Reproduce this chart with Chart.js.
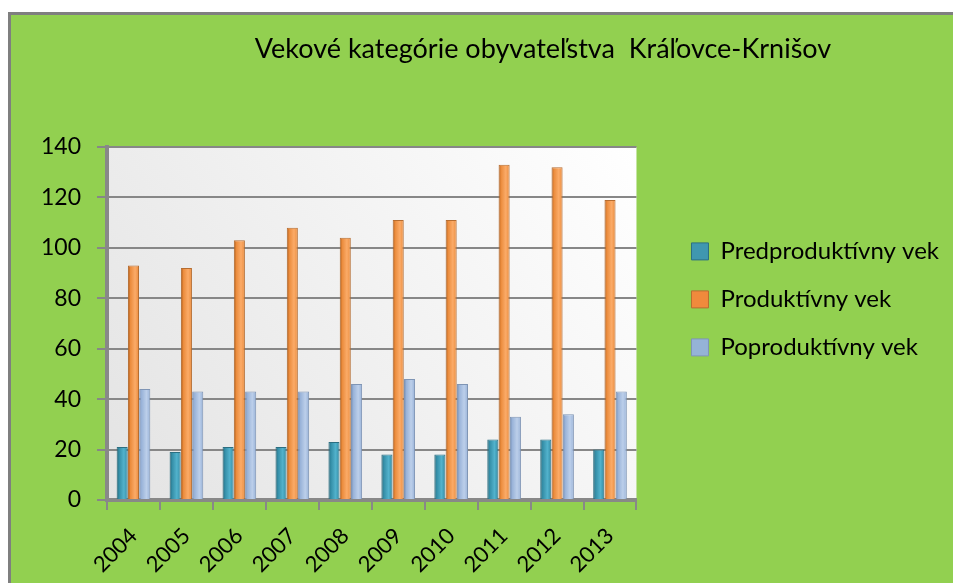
<!DOCTYPE html>
<html>
<head>
<meta charset="utf-8">
<script src="https://cdn.jsdelivr.net/npm/chart.js@4/dist/chart.umd.min.js"></script>
<style>
  body { margin: 0; background: #fff; }
  #frame {
    position: absolute; left: 8px; top: 12px;
    width: 942px; height: 568px;
    border-top: 3px solid #7f7f7f; border-left: 3px solid #7f7f7f;
    background: #92d050;
  }
</style>
</head>
<body>
<div id="frame"><canvas id="ageChart" width="942" height="568"></canvas></div>
<script>
var years = ['2004', '2005', '2006', '2007', '2008', '2009', '2010', '2011', '2012', '2013'];
var predproduktivny = [21, 19, 21, 21, 23, 18, 18, 24, 24, 20];
var produktivny = [93, 92, 103, 108, 104, 111, 111, 133, 132, 119];
var poproduktivny = [44, 43, 43, 43, 46, 48, 46, 33, 34, 43];
var yTicks = [0, 20, 40, 60, 80, 100, 120, 140];

var chartTitle = 'Vekové kategórie obyvateľstva  Kráľovce-Krnišov';
var fontFamily = 'Lato, "Open Sans", sans-serif';

// cylinder shades: edge, body, highlight
var shades = [
    ['#1a5363', '#338ca5', '#52b2cc'],
    ['#96490e', '#ea8a3a', '#fbab68'],
    ['#6c84ab', '#98b2d8', '#bccfea']
];

var plotBackground = {
    id: 'plotBackground',
    beforeDraw: function (chart) {
        var a = chart.chartArea, ctx = chart.ctx;
        var g = ctx.createLinearGradient(a.left, a.bottom, a.right, a.top);
        g.addColorStop(0, '#e3e3e3');
        g.addColorStop(1, '#ffffff');
        ctx.save();
        ctx.fillStyle = g;
        ctx.fillRect(a.left, a.top, a.right - a.left, a.bottom - a.top);
        ctx.restore();
    }
};

var cylinders = {
    id: 'cylinders',
    beforeDatasetsDraw: function (chart) {
        var ctx = chart.ctx;
        chart.data.datasets.forEach(function (ds, i) {
            var s = shades[i];
            chart.getDatasetMeta(i).data.forEach(function (bar) {
                var l = bar.x - bar.width / 2, r = bar.x + bar.width / 2;
                var g = ctx.createLinearGradient(l, 0, r, 0);
                g.addColorStop(0, s[0]);
                g.addColorStop(0.2, s[1]);
                g.addColorStop(0.65, s[2]);
                g.addColorStop(1, s[1]);
                bar.options = Object.assign({}, bar.options, { backgroundColor: g });
            });
        });
    }
};

var titleText = {
    id: 'titleText',
    afterDraw: function (chart) {
        var ctx = chart.ctx;
        ctx.save();
        ctx.font = '27px ' + fontFamily;
        ctx.fillStyle = '#000';
        ctx.textAlign = 'center';
        ctx.textBaseline = 'middle';
        ctx.fillText(chartTitle, 532, 34);
        ctx.restore();
    }
};

var ctx = document.getElementById('ageChart').getContext('2d');
new Chart(ctx, {
    type: 'bar',
    data: {
        labels: years,
        datasets: [{
            label: 'Predproduktívny vek',
            data: predproduktivny,
            backgroundColor: '#3f97b0',
            borderColor: '#2c6f82',
            borderWidth: 1
        }, {
            label: 'Produktívny vek',
            data: produktivny,
            backgroundColor: '#f08a3c',
            borderColor: '#b66d31',
            borderWidth: 1
        }, {
            label: 'Poproduktívny vek',
            data: poproduktivny,
            backgroundColor: '#95b3d7',
            borderColor: '#7f95b5',
            borderWidth: 1
        }]
    },
    options: {
        responsive: false,
        animation: false,
        categoryPercentage: 0.64,
        barPercentage: 0.98,
        datasets: { bar: { borderWidth: 0 } },
        layout: {
            padding: { left: 30, top: 132, right: 4, bottom: 8 }
        },
        scales: {
            x: {
                grid: {
                    offset: true,
                    drawOnChartArea: false,
                    drawTicks: true,
                    tickLength: 10,
                    color: '#888888',
                    lineWidth: 2
                },
                border: { color: '#888888', width: 4 },
                ticks: {
                    maxRotation: 45,
                    minRotation: 45,
                    padding: 13,
                    color: '#000',
                    font: { size: 22, family: fontFamily }
                },
                afterFit: function (scale) { scale.height = 75; }
            },
            y: {
                min: 0,
                max: 140,
                afterBuildTicks: function (scale) {
                    scale.ticks = yTicks.map(function (v) { return { value: v }; });
                },
                grid: {
                    color: '#878787',
                    lineWidth: 2,
                    tickLength: 10
                },
                border: { color: '#888888', width: 4 },
                ticks: {
                    padding: 16,
                    color: '#000',
                    font: { size: 23, family: fontFamily }
                },
                afterFit: function (scale) { scale.width = 66; }
            },
            spacer: {
                position: 'right',
                display: true,
                grid: { display: false },
                border: { display: false },
                ticks: { display: false },
                afterFit: function (scale) { scale.width = 31; }
            }
        },
        plugins: {
            title: { display: false },
            tooltip: { enabled: false },
            legend: {
                position: 'right',
                align: 'start',
                fullSize: false,
                maxWidth: 284,
                title: { display: true, text: '', padding: { top: 54, bottom: 0 } },
                labels: {
                    boxWidth: 17,
                    boxHeight: 17,
                    padding: 24,
                    color: '#000',
                    font: { size: 24, family: fontFamily }
                }
            }
        }
    },
    plugins: [plotBackground, cylinders, titleText]
});
</script>
</body>
</html>
